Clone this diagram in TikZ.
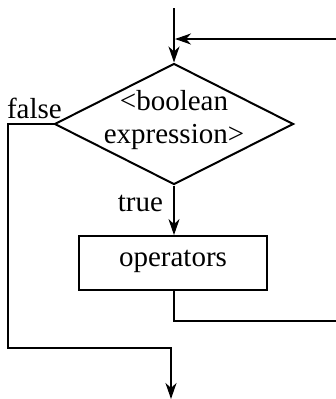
\documentclass[tikz,border=0pt]{standalone}
\usepackage{fontspec}
\setmainfont{Liberation Serif}
\usetikzlibrary{arrows.meta,shapes.geometric}
\begin{document}
\begin{tikzpicture}[x=1pt,y=-1pt,
  line width=2pt,
  txt/.style={font=\fontsize{29}{33}\selectfont,inner sep=0pt},
  tip/.style={-{Stealth[length=16pt,width=11pt,inset=5pt]}},
  decision/.style={diamond,draw,minimum width=239pt,minimum height=121pt,inner sep=0pt},
  proc/.style={rectangle,draw,line width=1.8pt,minimum width=188pt,minimum height=54pt,inner sep=0pt}]
\useasboundingbox (0,0) rectangle (336,399);
\coordinate (start) at (174,8);
\node[decision] (d) at (174,124) {};
\node[txt,align=center] (dtext) at (174,120) {<boolean\\expression>};
\node[proc] (ops) at (173,263) {};
\node[txt] (opstext) at (173,261) {operators};
\coordinate (merge) at (174,39);
\coordinate (ret0) at (174,321);
\coordinate (ret1) at (337,321);
\coordinate (ret2) at (337,39);
\coordinate (f1) at (8,124);
\coordinate (f2) at (8,348);
\coordinate (f3) at (171,348);
\coordinate (endpt) at (171,399);
\node[txt,anchor=base west] (flab) at (6,118) {false};
\node[txt,anchor=base east] (tlab) at (164,211) {true};
\draw[tip] (start) -- (d.north);
\draw[tip] (ret2) -- ([xshift=1pt]merge);
\draw[tip] (d.south) -- (d.south |- ops.north);
\draw (ret0 |- ops.south) -- (ret0) -- (ret1);
\draw[tip] (d.west) -- (f1) -- (f2) -- (f3) -- (endpt);
\end{tikzpicture}
\end{document}
